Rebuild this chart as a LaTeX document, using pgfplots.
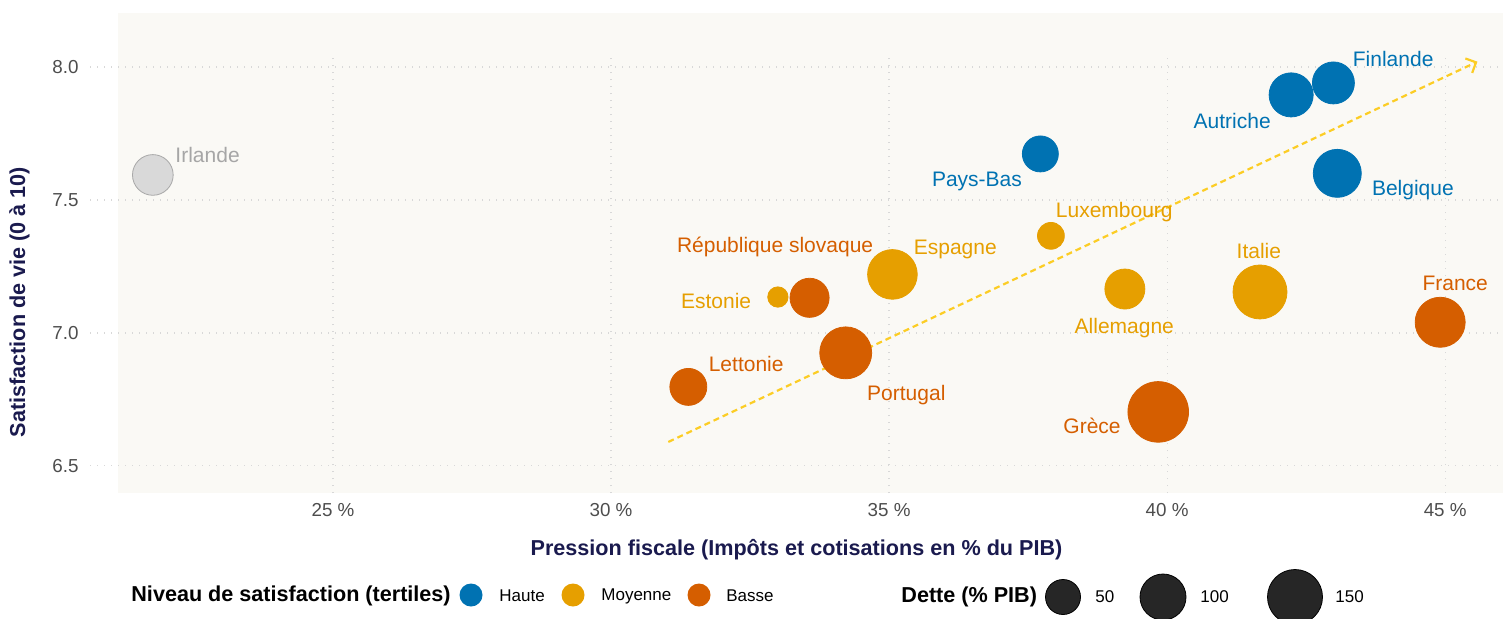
\documentclass[border=0pt]{standalone}
\usepackage{fontspec}
\setmainfont{Liberation Sans}
\usepackage{pgfplots}
\usepackage{pgfplotstable}
\pgfplotsset{compat=1.18}
\usetikzlibrary{arrows.meta}

\definecolor{haute}{HTML}{0072B2}
\definecolor{moyenne}{HTML}{E69F00}
\definecolor{basse}{HTML}{D55E00}
\definecolor{panel}{HTML}{FAF9F5}
\definecolor{gridc}{HTML}{D8D8D8}
\definecolor{tickc}{HTML}{4D4D4D}
\definecolor{navy}{RGB}{26,26,78}
\definecolor{fleche}{RGB}{252,205,37}
\definecolor{irl}{HTML}{D9D9D9}
\definecolor{irlb}{HTML}{A8A8A8}
\definecolor{irlt}{HTML}{A6A6A6}
\definecolor{dette}{HTML}{262626}

% pression fiscale (% PIB), satisfaction (0-10), dette (% PIB)
\pgfplotstableread{
pf    sat   dette
42.99 7.940 80
42.23 7.895 90
43.06 7.600 110
37.72 7.673 54
}\haute
\pgfplotstableread{
pf    sat   dette
37.91 7.365 22
35.06 7.220 119
33.00 7.135 5
39.24 7.165 71
41.67 7.154 144
}\moyenne
\pgfplotstableread{
pf    sat   dette
33.57 7.132 67
34.22 6.925 132
31.39 6.797 58
44.91 7.040 121
39.84 6.703 186
}\basse
\pgfplotstableread{
pf    sat   dette
21.76 7.594 74
}\irlande

\pgfplotsset{
  bulle/.style={only marks, mark=*, scatter,
    scatter/use mapped color={draw=#1, fill=#1},
    visualization depends on={0.5*sqrt(81+4.5*\thisrow{dette}) \as \rad},
    scatter/@pre marker code/.append style={/tikz/mark size=\rad}},
}
\tikzset{lab/.style={font=\fontsize{10.5}{12}\selectfont, inner sep=0pt}}

\begin{document}
\begin{tikzpicture}
\begin{axis}[
    set layers,
    scale only axis,
    width=706.5pt, height=219pt,
    xmin=20.63, xmax=46.04,
    ymin=6.398, ymax=8.045,
    clip=false,
    axis line style={draw=none},
    major tick length=0pt,
    xtick={25,30,35,40,45},
    xticklabels={25 \%,30 \%,35 \%,40 \%,45 \%},
    ytick={6.5,7,7.5,8},
    yticklabels={6.5,7.0,7.5,8.0},
    tick label style={font=\fontsize{9.4}{11}\selectfont, text=tickc},
    xticklabel style={anchor=center, yshift=-8.5pt},
    yticklabel style={anchor=east, inner xsep=0pt, xshift=-5.5pt},
    grid=major,
    major grid style={gridc, line width=0.6pt, dash pattern=on 0.7pt off 2.8pt},
    xlabel={Pression fiscale (Impôts et cotisations en \% du PIB)},
    ylabel={Satisfaction de vie (0 à 10)},
    every axis x label/.style={at={(rel axis cs:0.5,-0.130)}, anchor=center},
    every axis y label/.style={at={(rel axis cs:-0.050,0.436)}, anchor=center, rotate=90},
    label style={font=\bfseries\fontsize{10.8}{13}\selectfont, text=navy},
]
\begin{pgfonlayer}{axis background}
  \fill[panel] (axis cs:21.13,6.398) rectangle (axis cs:46.04,8.203);
\end{pgfonlayer}

\addplot[fleche, line width=1.1pt, dash pattern=on 3pt off 2pt,
  -{Straight Barb[length=4pt,width=8pt]}] coordinates {(31.03,6.59) (45.58,8.02)};

\addplot[only marks, mark=*, scatter,
  scatter/use mapped color={draw=irlb, fill=irl},
  visualization depends on={0.5*sqrt(81+4.5*\thisrow{dette}) \as \rad},
  scatter/@pre marker code/.append style={/tikz/mark size=\rad, /tikz/line width=0.5pt}]
  table[x=pf, y=sat] {\irlande};
\addplot[bulle=haute] table[x=pf, y=sat] {\haute};
\addplot[bulle=moyenne] table[x=pf, y=sat] {\moyenne};
\addplot[bulle=basse] table[x=pf, y=sat] {\basse};

\node[lab, text=irlt, anchor=west] at (axis cs:22.16,7.669) {Irlande};
\node[lab, text=haute] at (axis cs:44.065,8.030) {Finlande};
\node[lab, text=haute] at (axis cs:41.17,7.797) {Autriche};
\node[lab, text=haute] at (axis cs:44.42,7.538) {Belgique};
\node[lab, text=haute] at (axis cs:36.58,7.571) {Pays-Bas};
\node[lab, text=moyenne] at (axis cs:39.05,7.455) {Luxembourg};
\node[lab, text=moyenne] at (axis cs:36.19,7.312) {Espagne};
\node[lab, text=moyenne] at (axis cs:31.89,7.120) {Estonie};
\node[lab, text=moyenne] at (axis cs:39.23,7.019) {Allemagne};
\node[lab, text=moyenne] at (axis cs:41.65,7.308) {Italie};
\node[lab, text=basse] at (axis cs:32.95,7.323) {République slovaque};
\node[lab, text=basse] at (axis cs:32.43,6.883) {Lettonie};
\node[lab, text=basse] at (axis cs:35.31,6.767) {Portugal};
\node[lab, text=basse] at (axis cs:45.18,7.188) {France};
\node[lab, text=basse] at (axis cs:38.65,6.650) {Grèce};

\coordinate (O) at (rel axis cs:0,1);
\end{axis}

\begin{scope}[shift={(O)}, xshift=-45pt, yshift=27.5pt, x=0.5pt, y=-0.5pt]
  % légende couleur
  \node[anchor=west, inner sep=0pt, font=\bfseries\fontsize{10.8}{13}\selectfont] at (131,596) {Niveau de satisfaction (tertiles)};
  \node[circle, fill=haute, inner sep=0pt, minimum size=11.5pt] at (471,595) {};
  \node[anchor=west, inner sep=0pt, font=\fontsize{8.5}{10}\selectfont] at (499,596) {Haute};
  \node[circle, fill=moyenne, inner sep=0pt, minimum size=11.5pt] at (573,595) {};
  \node[anchor=west, inner sep=0pt, font=\fontsize{8.5}{10}\selectfont] at (601,596) {Moyenne};
  \node[circle, fill=basse, inner sep=0pt, minimum size=11.5pt] at (699,595) {};
  \node[anchor=west, inner sep=0pt, font=\fontsize{8.5}{10}\selectfont] at (726,596) {Basse};
  % légende taille
  \node[anchor=west, inner sep=0pt, font=\bfseries\fontsize{10.8}{13}\selectfont] at (901,597) {Dette (\% PIB)};
  \node[circle, fill=dette, draw=black, line width=0.4pt, inner sep=0pt, minimum size=17.5pt] at (1063,597) {};
  \node[anchor=west, inner sep=0pt, font=\fontsize{8.5}{10}\selectfont] at (1095,597) {50};
  \node[circle, fill=dette, draw=black, line width=0.4pt, inner sep=0pt, minimum size=23pt] at (1163,597) {};
  \node[anchor=west, inner sep=0pt, font=\fontsize{8.5}{10}\selectfont] at (1200,597) {100};
  \node[circle, fill=dette, draw=black, line width=0.4pt, inner sep=0pt, minimum size=27.5pt] at (1295,597) {};
  \node[anchor=west, inner sep=0pt, font=\fontsize{8.5}{10}\selectfont] at (1335,597) {150};
  \pgfresetboundingbox
  \path (0,0) rectangle (1503,618);
\end{scope}
\end{tikzpicture}
\end{document}
